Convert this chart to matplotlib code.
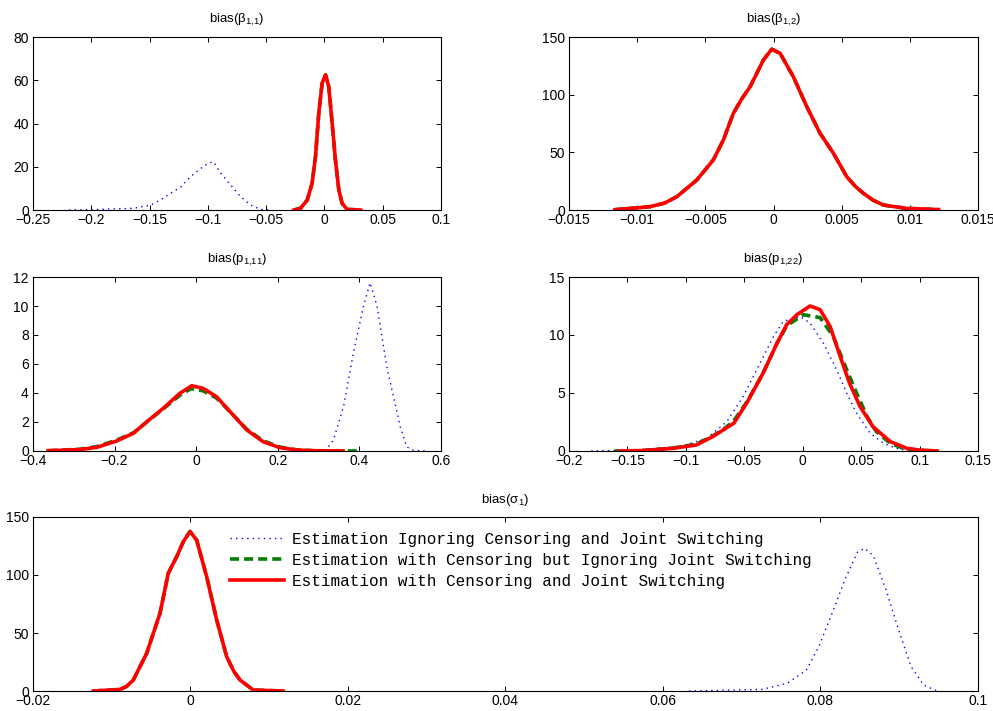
import matplotlib
matplotlib.use('Agg')
import matplotlib.pyplot as plt
from matplotlib.ticker import FuncFormatter

plt.rcParams['font.family'] = ['Liberation Sans', 'DejaVu Sans']
plt.rcParams['mathtext.fontset'] = 'custom'
plt.rcParams['mathtext.rm'] = 'Liberation Sans'
plt.rcParams['mathtext.it'] = 'Liberation Sans:italic'

labels = ['Estimation Ignoring Censoring and Joint Switching',
          'Estimation with Censoring but Ignoring Joint Switching',
          'Estimation with Censoring and Joint Switching']

# bias(beta_1,1)
b11_blue_x = [-0.219, -0.192, -0.1635, -0.149, -0.141, -0.132, -0.123, -0.115, -0.106, -0.099, -0.095,
              -0.089, -0.0805, -0.072, -0.0634, -0.0548, -0.0477]
b11_blue_y = [0, 0.3, 0.8, 2.3, 4.6, 7.7, 10.8, 15.4, 19.3, 21.9, 22.2, 17, 11.6, 6.2, 2.3, 0.3, 0]
b11_red_x = [-0.0263, -0.0206, -0.0148, -0.0106, -0.0077, -0.0049, -0.002, 0.0009, 0.0037, 0.0066,
             0.0094, 0.0123, 0.0151, 0.0194, 0.031]
b11_red_y = [0, 0.8, 4.6, 12.4, 24.7, 44.8, 58.7, 62.5, 57, 40, 23, 9.3, 3.1, 0.3, 0]

# bias(beta_1,2)
b12_red_x = [-0.01163, -0.00906, -0.008, -0.0071, -0.00563, -0.00442, -0.00368, -0.00295, -0.00235,
             -0.00172, -0.00125, -0.00075, -0.00013, 0.00048, 0.00145, 0.00244, 0.00341, 0.00439,
             0.00537, 0.006, 0.00659, 0.0073, 0.00806, 0.00977, 0.0121]
b12_red_y = [0.3, 2.9, 6, 11.5, 26, 43.4, 60.7, 83.8, 96, 106.9, 118, 130, 139.5, 135.9, 115.6, 89.6,
             66.5, 49.2, 28.9, 20.5, 14.5, 8.5, 4.3, 1.4, 0.4]

# bias(p_1,11)
p11_blue_x = [0.316, 0.336, 0.361, 0.385, 0.41, 0.426, 0.443, 0.467, 0.5, 0.516, 0.532, 0.561]
p11_blue_y = [0, 0.74, 3.05, 6.75, 10, 11.6, 10, 5.8, 1.67, 0.28, 0.05, 0]
p11_green_x = [-0.363, -0.285, -0.244, -0.195, -0.154, -0.121, -0.081, -0.04, -0.013, 0.017, 0.05,
               0.083, 0.124, 0.164, 0.205, 0.246, 0.287, 0.36, 0.4]
p11_green_y = [0.02, 0.12, 0.3, 0.75, 1.25, 2.0, 2.9, 3.85, 4.3, 4.15, 3.65, 2.7, 1.5, 0.7, 0.27, 0.08,
               0.02, 0, 0]
p11_red_x = [-0.363, -0.285, -0.244, -0.195, -0.154, -0.121, -0.081, -0.04, -0.011, 0.017, 0.05, 0.083,
             0.124, 0.164, 0.205, 0.246, 0.287, 0.36]
p11_red_y = [0.02, 0.1, 0.25, 0.69, 1.22, 2.02, 2.94, 3.98, 4.5, 4.32, 3.74, 2.71, 1.45, 0.64, 0.23, 0.07,
             0.02, 0]

# bias(p_1,22)
p22_blue_x = [-0.181, -0.139, -0.102, -0.082, -0.065, -0.051, -0.0365, -0.025, -0.0166, -0.0023, 0.0062,
              0.0176, 0.029, 0.0376, 0.046, 0.0576, 0.069, 0.08, 0.089, 0.097]
p22_blue_y = [0, 0.09, 0.46, 1.1, 2.53, 4.7, 7.58, 9.88, 11.18, 11.6, 11.04, 9.3, 7.0, 4.99, 3.26, 1.53,
              0.67, 0.23, 0.05, 0]
p22_green_x = [-0.161, -0.139, -0.111, -0.091, -0.077, -0.068, -0.059, -0.048, -0.034, -0.022, -0.0137,
               0.0005, 0.0148, 0.026, 0.0376, 0.046, 0.055, 0.063, 0.075, 0.086, 0.1, 0.115]
p22_green_y = [0, 0.03, 0.25, 0.6, 1.3, 1.85, 2.6, 4.2, 6.7, 9.3, 10.8, 11.75, 11.5, 9.9, 7.0, 5.0, 2.97,
               1.67, 0.66, 0.23, 0.05, 0]
p22_red_x = [-0.157, -0.139, -0.111, -0.091, -0.077, -0.059, -0.048, -0.034, -0.022, -0.0137, -0.005,
             0.0062, 0.0148, 0.0234, 0.032, 0.04, 0.049, 0.06, 0.075, 0.089, 0.1, 0.115]
p22_red_y = [0, 0.03, 0.23, 0.52, 1.24, 2.39, 4.12, 6.7, 9.3, 10.9, 11.75, 12.5, 12.19, 10.74, 8.15,
             5.85, 3.83, 2.1, 0.8, 0.23, 0.08, 0]

# bias(sigma_1)
s1_blue_x = [0.0633, 0.0726, 0.0758, 0.0782, 0.0798, 0.0815, 0.0831, 0.0847, 0.0856, 0.0867, 0.0883,
             0.0899, 0.0915, 0.0931, 0.0948]
s1_blue_y = [0, 1.4, 6.7, 18, 38.5, 67.5, 96, 119.6, 123, 116.7, 87.7, 53, 21, 5.2, 0]
s1_red_x = [-0.01234, -0.00895, -0.0081, -0.00726, -0.00556, -0.00387, -0.00282, -0.00175, -0.00091,
            -0.00006, 0.00079, 0.00206, 0.00333, 0.0046, 0.0055, 0.00629, 0.00797, 0.01178]
s1_red_y = [0, 1.4, 4, 9.5, 32.5, 67, 101.5, 115.8, 128.7, 137.5, 130, 98.5, 61.2, 29.6, 17, 9.5, 0.86, 0]

panels = [
    dict(title=r'bias(β$_{1{,}1}$)', pos=[0.0332, 0.7046, 0.411, 0.2433],
         blue=(b11_blue_x, b11_blue_y), green=(b11_red_x, b11_red_y), red=(b11_red_x, b11_red_y),
         xticks=[-0.25, -0.2, -0.15, -0.1, -0.05, 0, 0.05, 0.1], yticks=[0, 20, 40, 60, 80]),
    dict(title=r'bias(β$_{1{,}2}$)', pos=[0.573, 0.7046, 0.412, 0.2433],
         blue=(b12_red_x, b12_red_y), green=(b12_red_x, b12_red_y), red=(b12_red_x, b12_red_y),
         xticks=[-0.015, -0.01, -0.005, 0, 0.005, 0.01, 0.015], yticks=[0, 50, 100, 150]),
    dict(title=r'bias(p$_{1{,}11}$)', pos=[0.0332, 0.3657, 0.411, 0.2447],
         blue=(p11_blue_x, p11_blue_y), green=(p11_green_x, p11_green_y), red=(p11_red_x, p11_red_y),
         xticks=[-0.4, -0.2, 0, 0.2, 0.4, 0.6], yticks=[0, 2, 4, 6, 8, 10, 12]),
    dict(title=r'bias(p$_{1{,}22}$)', pos=[0.573, 0.3657, 0.412, 0.2447],
         blue=(p22_blue_x, p22_blue_y), green=(p22_green_x, p22_green_y), red=(p22_red_x, p22_red_y),
         xticks=[-0.2, -0.15, -0.1, -0.05, 0, 0.05, 0.1, 0.15], yticks=[0, 5, 10, 15]),
    dict(title=r'bias(σ$_{1}$)', pos=[0.0332, 0.0281, 0.9517, 0.2448],
         blue=(s1_blue_x, s1_blue_y), green=(s1_red_x, s1_red_y), red=(s1_red_x, s1_red_y),
         xticks=[-0.02, 0, 0.02, 0.04, 0.06, 0.08, 0.1], yticks=[0, 50, 100, 150]),
]


def fmt(v, pos):
    v = round(v, 6)
    if v == 0:
        return '0'
    return ('%g' % v).replace('-', '\u2212')


fig = plt.figure(figsize=(9.93, 7.11), dpi=100)
for p in panels:
    ax = fig.add_axes(p['pos'])
    l1, = ax.plot(*p['blue'], color='blue', lw=1.0, linestyle=(0, (1, 3)))
    l2, = ax.plot(*p['green'], color=(0, 0.5, 0), lw=2.6, linestyle=(0, (2.5, 1.4)))
    l3, = ax.plot(*p['red'], color='red', lw=2.6)
    ax.set_xlim(p['xticks'][0], p['xticks'][-1])
    ax.set_ylim(p['yticks'][0], p['yticks'][-1])
    ax.set_xticks(p['xticks'])
    ax.set_yticks(p['yticks'])
    ax.xaxis.set_major_formatter(FuncFormatter(fmt))
    ax.tick_params(direction='in', length=3.5, width=0.7, labelsize=10, top=True, right=True,
                   pad=3)
    ax.tick_params(axis='x', pad=2)
    for s in ax.spines.values():
        s.set_linewidth(0.8)
    ax.set_title(p['title'], fontsize=9.5, pad=10)

ax.legend([l1, l2, l3], labels, loc='upper left', bbox_to_anchor=(0.2085, 0.915), frameon=False,
          prop={'family': 'Liberation Mono', 'size': 11.5}, handlelength=3.4, handletextpad=0.45,
          labelspacing=0.38, borderpad=0, borderaxespad=0)

fig.savefig('out.png', dpi=100)
